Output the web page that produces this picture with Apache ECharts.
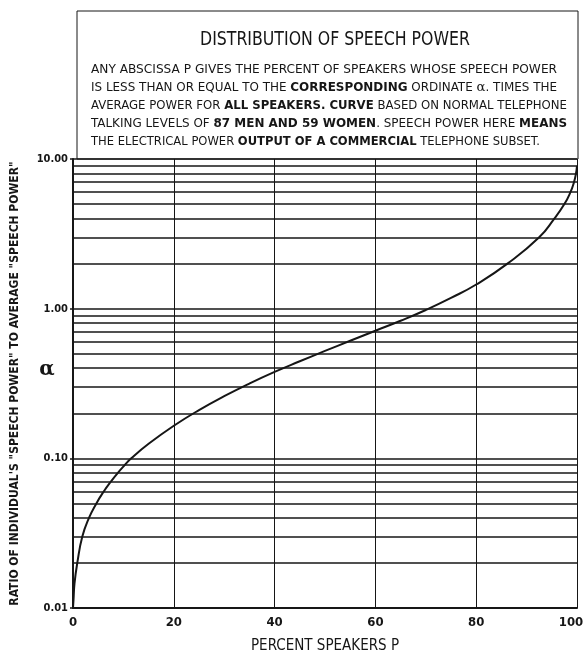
<!DOCTYPE html>
<html>
<head>
<meta charset="utf-8">
<script src="https://cdn.jsdelivr.net/npm/echarts@6/dist/echarts.min.js"></script>
<style>
  html, body { margin: 0; padding: 0; background: #fff; }
  #chart { width: 584px; height: 658px; }
</style>
</head>
<body>
<div id="chart"></div>
<script>
// Percent of speakers P (abscissa)
const percent = [0, 0.1, 0.3, 0.85, 1.85, 3.17, 4.64, 6.1, 7.53, 8.9, 10.25, 11.56,
  15, 20, 25, 30, 35, 40, 45, 50, 55, 60, 65, 70, 75, 80, 86.2,
  92.5, 95.5, 97.5, 98.7, 99.4, 99.8, 100];
// Ratio alpha of individual's speech power to average speech power
const ratio = [0.01, 0.0113, 0.0146, 0.02, 0.03, 0.04, 0.05, 0.06, 0.07, 0.08, 0.09, 0.10,
  0.125, 0.165, 0.21, 0.26, 0.316, 0.378, 0.445, 0.522, 0.61, 0.712, 0.83, 0.98, 1.18, 1.45, 2.0,
  3, 4, 5, 6, 7, 8, 9];

// Decade tick labels and intermediate log rulings
const yTickLabels = ['0.01', '0.10', '1.00', '10.00'];
const logRulings = [0.02, 0.03, 0.04, 0.05, 0.06, 0.07, 0.08, 0.09,
  0.2, 0.3, 0.4, 0.5, 0.6, 0.7, 0.8, 0.9,
  2, 3, 4, 5, 6, 7, 8, 9];
const xTicks = [0, 20, 40, 60, 80, 100];

const FONT = '"DejaVu Sans Condensed", "Liberation Sans Narrow", "DejaVu Sans", sans-serif';
const ALPHA_FONT = '"DejaVu Serif", "DejaVu Sans", serif';
const INK = '#161616';

// Note text, one entry per line: [text, style] where style n = normal, b = bold, a = alpha glyph
const noteLines = [
  [['ANY ABSCISSA P GIVES THE PERCENT OF SPEAKERS WHOSE SPEECH POWER', 'n']],
  [['IS LESS THAN OR EQUAL TO THE ', 'n'], ['CORRESPONDING', 'b'], [' ORDINATE ', 'n'], ['α', 'a'], ['. TIMES THE', 'n']],
  [['AVERAGE POWER FOR ', 'n'], ['ALL SPEAKERS. CURVE', 'b'], [' BASED ON NORMAL TELEPHONE', 'n']],
  [['TALKING LEVELS OF ', 'n'], ['87 MEN AND 59 WOMEN', 'b'], ['. SPEECH POWER HERE ', 'n'], ['MEANS', 'b']],
  [['THE ELECTRICAL POWER ', 'n'], ['OUTPUT OF A COMMERCIAL', 'b'], [' TELEPHONE SUBSET.', 'n']]
];
// layout of the note block: left edge, right edges and vertical centres of each line
const NOTE_LEFT = 91;
const noteRight = [557, 557, 567, 567, 540];
const noteY = [70, 88, 106, 124, 142];
const NOTE_SIZE = 13;

const segFont = s => (s === 'b' ? 'bold ' : '') + NOTE_SIZE + 'px ' + (s === 'a' ? ALPHA_FONT : FONT);

const measureCtx = document.createElement('canvas').getContext('2d');
function measureLine(segs) {
  let w = 0;
  segs.forEach(([t, s]) => { measureCtx.font = segFont(s); w += measureCtx.measureText(t).width; });
  return w;
}

const TITLE = 'DISTRIBUTION OF SPEECH POWER';
const TITLE_FONT = '19px ' + FONT;
measureCtx.font = TITLE_FONT;
const titleScale = 270 / measureCtx.measureText(TITLE).width;

const noteGraphics = noteLines.map((segs, i) => ({
  type: 'text',
  x: NOTE_LEFT,
  y: noteY[i],
  scaleX: (noteRight[i] - NOTE_LEFT) / measureLine(segs),
  silent: true,
  style: {
    text: segs.map(([t, s]) => (s === 'n' ? t : '{' + s + '|' + t + '}')).join(''),
    fill: INK,
    font: segFont('n'),
    textAlign: 'left',
    textVerticalAlign: 'middle',
    rich: {
      b: { font: segFont('b'), fill: INK },
      a: { font: segFont('a'), fill: INK }
    }
  }
}));

const chart = echarts.init(document.getElementById('chart'), null, { renderer: 'canvas' });

chart.setOption({
  animation: false,
  backgroundColor: '#fff',
  grid: { left: 73, top: 159, right: 7, bottom: 50, containLabel: false, outerBoundsMode: 'none' },
  xAxis: {
    type: 'value',
    min: 0,
    max: 100,
    interval: 20,
    axisLine: { show: true, lineStyle: { color: INK, width: 2 } },
    axisTick: { show: false },
    axisLabel: {
      color: INK, fontFamily: FONT, fontSize: 13, fontWeight: 'bold', margin: 8,
      // the last label is nudged left so it stays inside the page
      formatter: v => (v === 100 ? '{edge|100}' : (xTicks.indexOf(v) >= 0 ? String(v) : '')),
      rich: {
        edge: { color: INK, fontFamily: FONT, fontSize: 13, fontWeight: 'bold', padding: [0, 12, 0, 0] }
      }
    },
    splitLine: { show: true, lineStyle: { color: INK, width: 1 } },
    name: 'PERCENT SPEAKERS P',
    nameLocation: 'middle',
    nameGap: 31,
    nameTextStyle: { color: INK, fontFamily: FONT, fontSize: 15 }
  },
  yAxis: {
    type: 'log',
    logBase: 10,
    min: 0.01,
    max: 10,
    axisLine: { show: true, lineStyle: { color: INK, width: 2 } },
    axisTick: { show: true, length: 3, lineStyle: { color: INK, width: 1.5 } },
    axisLabel: {
      color: INK, fontFamily: FONT, fontSize: 11, fontWeight: 'bold', margin: 5,
      formatter: v => {
        const i = Math.round(Math.log10(v)) + 2;
        return yTickLabels[i] || '';
      }
    },
    splitLine: { show: true, lineStyle: { color: INK, width: 1.7 } },
    name: 'RATIO OF INDIVIDUAL\'S "SPEECH POWER" TO AVERAGE "SPEECH POWER"',
    nameLocation: 'middle',
    nameGap: 52,
    nameRotate: 90,
    nameTextStyle: { color: INK, fontFamily: FONT, fontSize: 12, fontWeight: 'bold' }
  },
  series: [{
    type: 'line',
    data: percent.map((p, i) => [p, ratio[i]]),
    showSymbol: false,
    smooth: 0.5,
    lineStyle: { color: INK, width: 2 },
    markLine: {
      silent: true,
      symbol: ['none', 'none'],
      label: { show: false },
      lineStyle: { type: 'solid', color: INK, width: 1.7 },
      data: logRulings.map(v => ({ yAxis: v }))
    },
    z: 3
  }],
  graphic: [
    {
      type: 'rect',
      shape: { x: 77, y: 11, width: 501, height: 148 },
      style: { fill: 'none', stroke: INK, lineWidth: 1 },
      silent: true
    },
    {
      type: 'text',
      x: 335, y: 40,
      scaleX: titleScale,
      silent: true,
      style: {
        text: TITLE,
        fill: INK, font: TITLE_FONT,
        textAlign: 'center', textVerticalAlign: 'middle'
      }
    }
  ].concat(noteGraphics, [
    {
      type: 'text',
      x: 47, y: 370,
      silent: true,
      style: {
        text: 'α',
        fill: INK, font: 'bold 20px ' + ALPHA_FONT,
        textAlign: 'center', textVerticalAlign: 'middle'
      }
    }
  ])
});
</script>
</body>
</html>
